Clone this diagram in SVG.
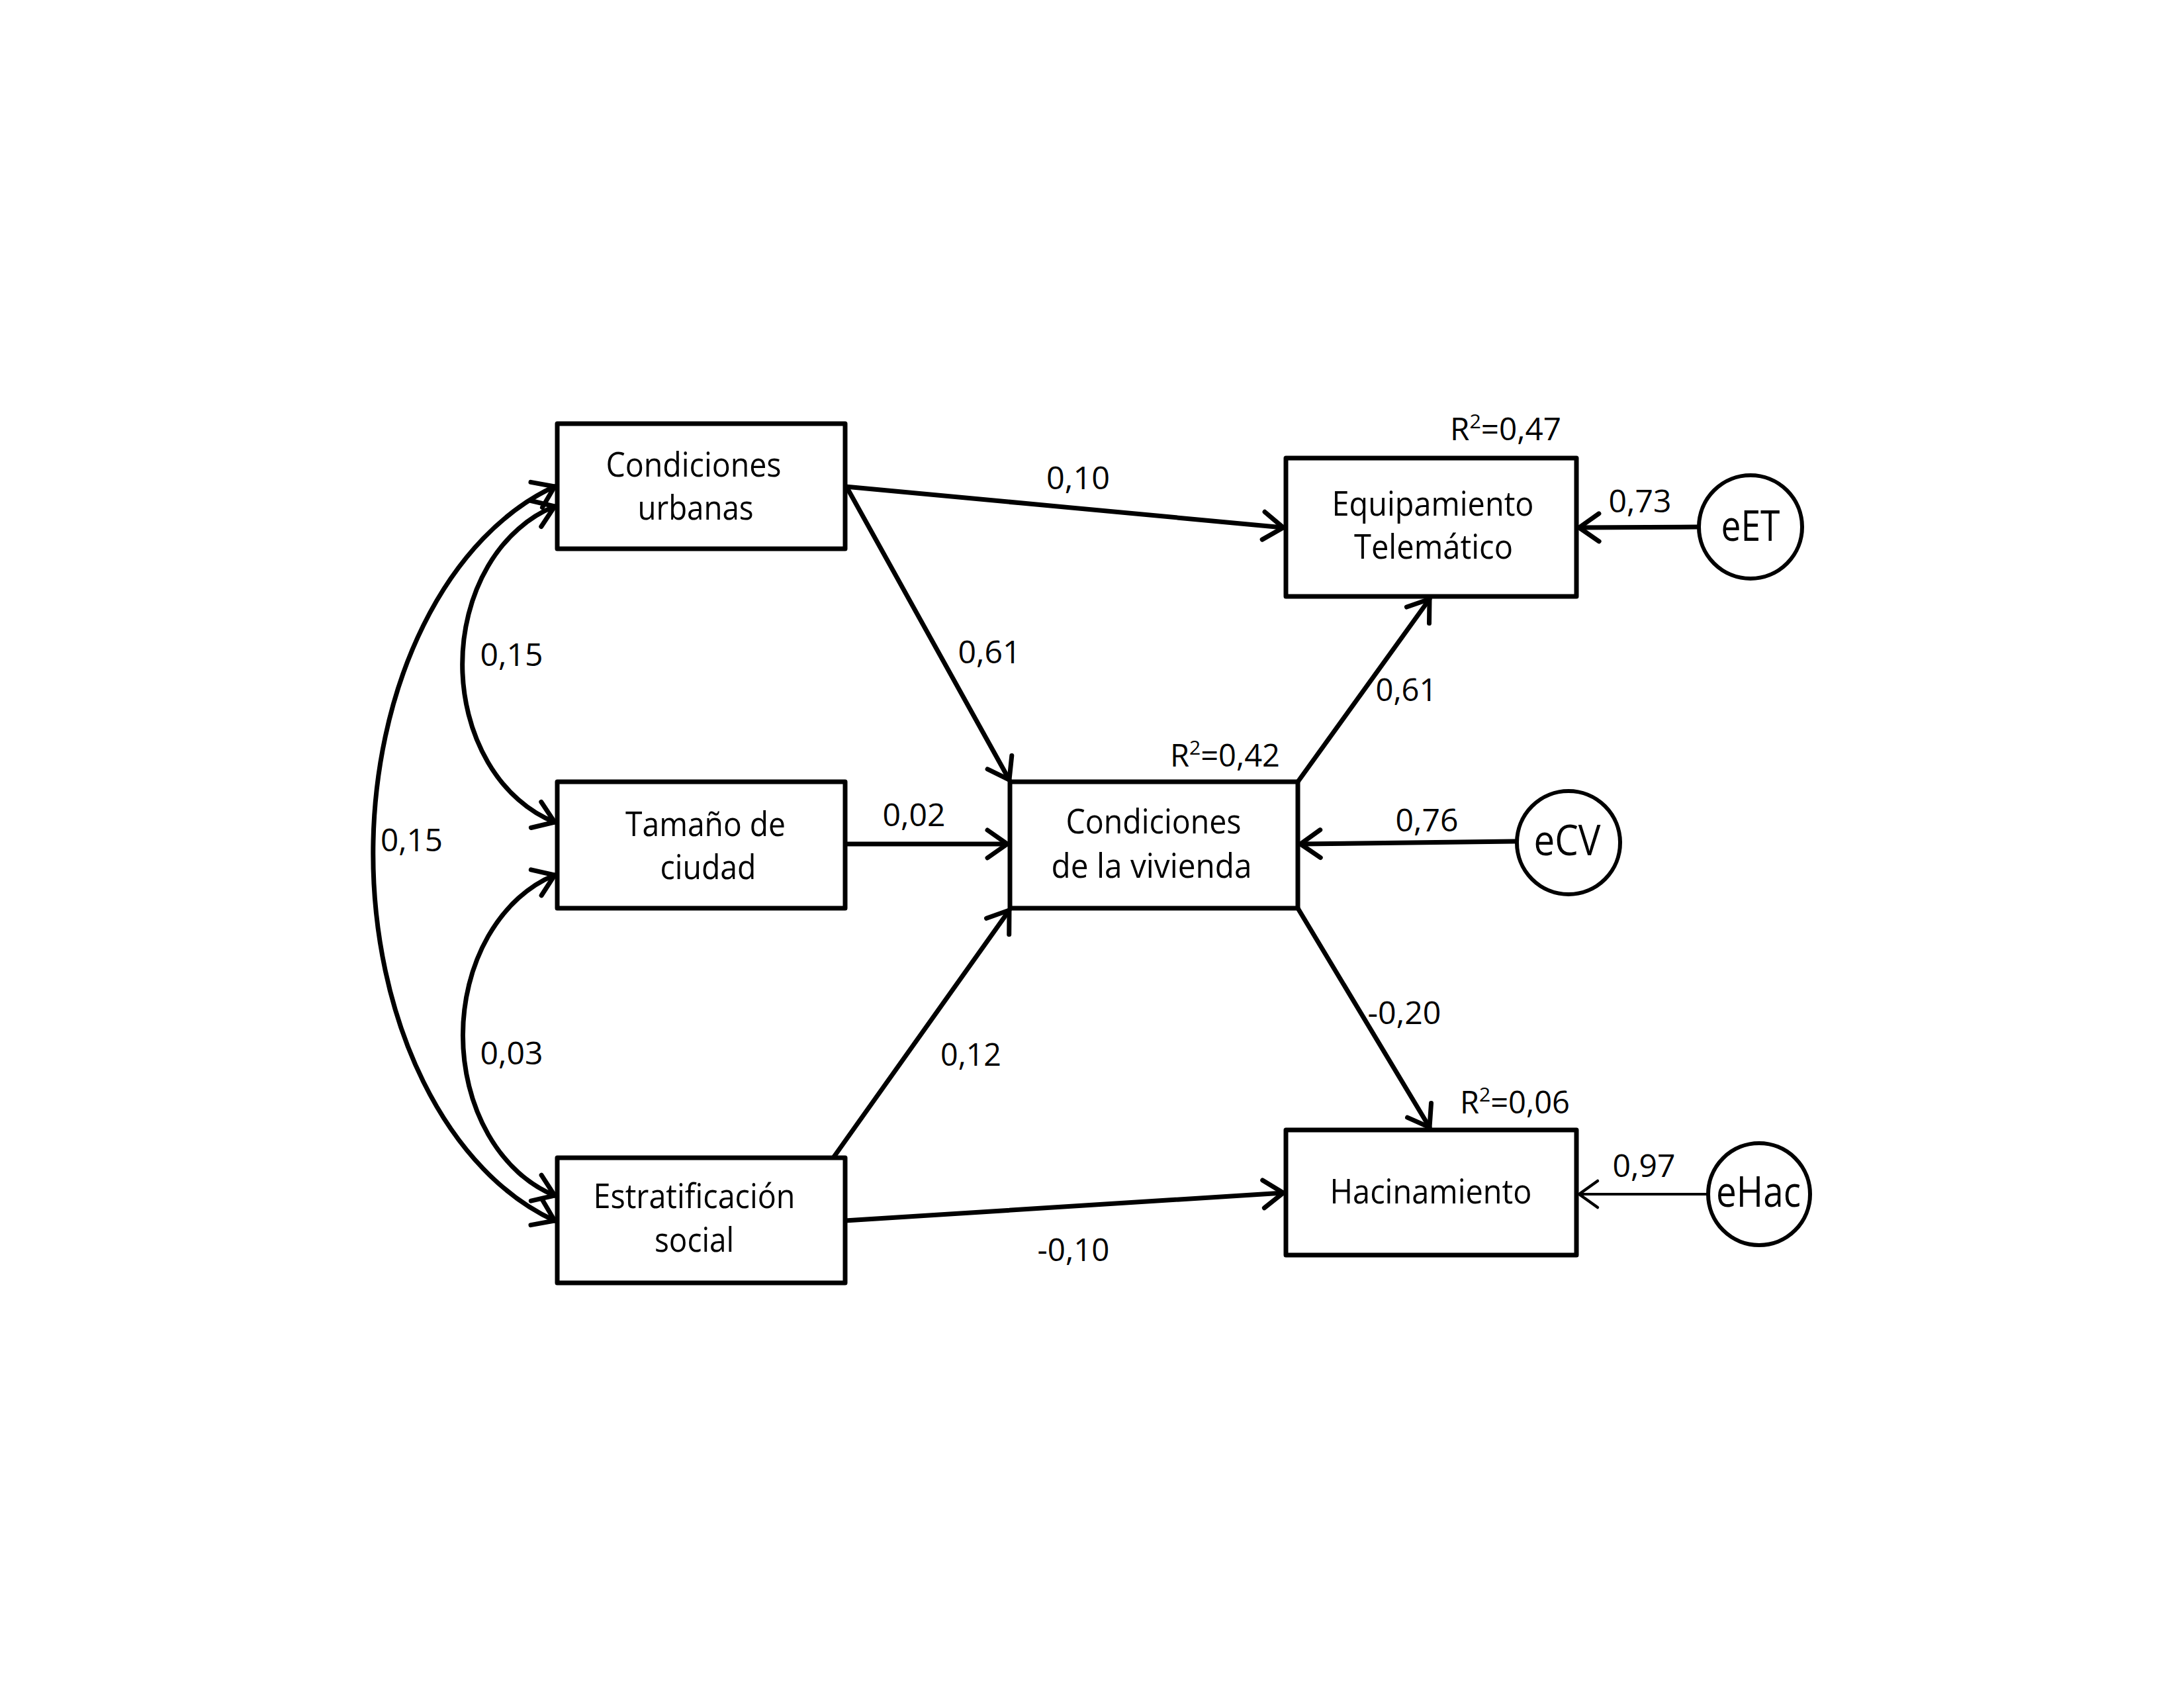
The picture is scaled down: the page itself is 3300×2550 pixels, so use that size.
<svg xmlns="http://www.w3.org/2000/svg" width="3300" height="2550" viewBox="0 0 3300 2550">
<style>
.box{fill:#fff;stroke:#000;stroke-width:7;stroke-linejoin:round}
.circ{fill:#fff;stroke:#000;stroke-width:6}
.ln{fill:none;stroke:#000;stroke-width:7;stroke-linecap:round}
.thin{fill:none;stroke:#000;stroke-width:4}
text{font-family:"Open Sans","Noto Sans",sans-serif;fill:#000;text-anchor:middle}
.t{font-size:52px}
.n{font-size:47px}
.e{font-size:64px}
</style>
<defs>
<marker id="ah" viewBox="-40 -30 50 60" refX="0" refY="0" markerWidth="50" markerHeight="60" markerUnits="userSpaceOnUse" orient="auto-start-reverse" overflow="visible">
<path d="M-30,-21 L0,0 L-30,21" fill="none" stroke="#000" stroke-width="7" stroke-linecap="round" stroke-linejoin="round"/>
</marker>
<marker id="ahThin" viewBox="-40 -30 50 60" refX="0" refY="0" markerWidth="50" markerHeight="60" markerUnits="userSpaceOnUse" orient="auto" overflow="visible">
<path d="M-28,-20 L0,0 L-28,20" fill="none" stroke="#000" stroke-width="4.5" stroke-linecap="round" stroke-linejoin="round"/>
</marker>
</defs>
<rect width="3300" height="2550" fill="#fff"/>

<g id="connectors">
<path class="ln" d="M1277,735 L1939,797" marker-end="url(#ah)"/>
<path class="ln" d="M1280,737 L1525,1178" marker-end="url(#ah)"/>
<path class="ln" d="M1277,1275 L1522,1275" marker-end="url(#ah)"/>
<path class="ln" d="M1259,1749 L1525,1375" marker-end="url(#ah)"/>
<path class="ln" d="M1277,1844 L1939,1802" marker-end="url(#ah)"/>
<path class="ln" d="M1961,1181 L2160,905" marker-end="url(#ah)"/>
<path class="ln" d="M1961,1372 L2160,1703" marker-end="url(#ah)"/>
<path class="ln" d="M2567,796 L2386,797" marker-end="url(#ah)"/>
<path class="ln" d="M2292,1271 L1965,1275" marker-end="url(#ah)"/>
<path class="thin" d="M2581,1804 L2386,1804" marker-end="url(#ahThin)"/>
<path class="ln" d="M838,735 A388,580 0 0 0 838,1844" marker-start="url(#ah)" marker-end="url(#ah)"/>
<path class="ln" d="M838,765 A199,250 0 0 0 838,1242" marker-start="url(#ah)" marker-end="url(#ah)"/>
<path class="ln" d="M838,1322 A199,254 0 0 0 838,1806" marker-start="url(#ah)" marker-end="url(#ah)"/>
</g>

<g id="labels">
<text class="n" x="1629" y="739" textLength="96" lengthAdjust="spacingAndGlyphs">0,10</text>
<text class="n" x="1495" y="1002" textLength="95" lengthAdjust="spacingAndGlyphs">0,61</text>
<text class="n" x="1381" y="1248" textLength="95" lengthAdjust="spacingAndGlyphs">0,02</text>
<text class="n" x="1467" y="1610" textLength="92" lengthAdjust="spacingAndGlyphs">0,12</text>
<text class="n" x="1622" y="1905" textLength="109" lengthAdjust="spacingAndGlyphs">-0,10</text>
<text class="n" x="2125" y="1059" textLength="93" lengthAdjust="spacingAndGlyphs">0,61</text>
<text class="n" x="2122" y="1547" textLength="111" lengthAdjust="spacingAndGlyphs">-0,20</text>
<text class="n" x="2478" y="774" textLength="95" lengthAdjust="spacingAndGlyphs">0,73</text>
<text class="n" x="2156" y="1256" textLength="95" lengthAdjust="spacingAndGlyphs">0,76</text>
<text class="n" x="2484" y="1778" textLength="95" lengthAdjust="spacingAndGlyphs">0,97</text>
<text class="n" x="773" y="1006" textLength="95" lengthAdjust="spacingAndGlyphs">0,15</text>
<text class="n" x="622" y="1286" textLength="94" lengthAdjust="spacingAndGlyphs">0,15</text>
<text class="n" x="773" y="1608" textLength="95" lengthAdjust="spacingAndGlyphs">0,03</text>
<text class="n" x="2275" y="665" textLength="168" lengthAdjust="spacingAndGlyphs">R<tspan font-size="30" dy="-18">2</tspan><tspan dy="18">=0,47</tspan></text>
<text class="n" x="1851" y="1158" textLength="166" lengthAdjust="spacingAndGlyphs">R<tspan font-size="30" dy="-18">2</tspan><tspan dy="18">=0,42</tspan></text>
<text class="n" x="2289" y="1682" textLength="166" lengthAdjust="spacingAndGlyphs">R<tspan font-size="30" dy="-18">2</tspan><tspan dy="18">=0,06</tspan></text>
</g>

<g id="node-cu">
<rect class="box" x="842" y="640" width="435" height="189"/>
<text class="t" x="1048" y="720" textLength="265" lengthAdjust="spacingAndGlyphs">Condiciones</text>
<text class="t" x="1051" y="785" textLength="175" lengthAdjust="spacingAndGlyphs">urbanas</text>
</g>
<g id="node-tc">
<rect class="box" x="842" y="1181" width="435" height="191"/>
<text class="t" x="1066" y="1263" textLength="242" lengthAdjust="spacingAndGlyphs">Tamaño de</text>
<text class="t" x="1070" y="1328" textLength="145" lengthAdjust="spacingAndGlyphs">ciudad</text>
</g>
<g id="node-es">
<rect class="box" x="842" y="1749" width="435" height="189"/>
<text class="t" x="1049" y="1825" textLength="305" lengthAdjust="spacingAndGlyphs">Estratificación</text>
<text class="t" x="1049" y="1891" textLength="120" lengthAdjust="spacingAndGlyphs">social</text>
</g>
<g id="node-cv">
<rect class="box" x="1526" y="1181" width="435" height="191"/>
<text class="t" x="1743" y="1259" textLength="265" lengthAdjust="spacingAndGlyphs">Condiciones</text>
<text class="t" x="1740" y="1326" textLength="303" lengthAdjust="spacingAndGlyphs">de la vivienda</text>
</g>
<g id="node-et">
<rect class="box" x="1943" y="692" width="439" height="209"/>
<text class="t" x="2165" y="779" textLength="305" lengthAdjust="spacingAndGlyphs">Equipamiento</text>
<text class="t" x="2166" y="844" textLength="240" lengthAdjust="spacingAndGlyphs">Telemático</text>
</g>
<g id="node-ha">
<rect class="box" x="1943" y="1707" width="439" height="189"/>
<text class="t" x="2162" y="1818" textLength="305" lengthAdjust="spacingAndGlyphs">Hacinamiento</text>
</g>
<g id="node-eet">
<circle class="circ" cx="2645" cy="796" r="78"/>
<text class="e" x="2645" y="817" textLength="89" lengthAdjust="spacingAndGlyphs">eET</text>
</g>
<g id="node-ecv">
<circle class="circ" cx="2370" cy="1273" r="78"/>
<text class="e" x="2368" y="1292" textLength="101" lengthAdjust="spacingAndGlyphs">eCV</text>
</g>
<g id="node-ehac">
<circle class="circ" cx="2658" cy="1804" r="77"/>
<text class="e" x="2657" y="1823" textLength="128" lengthAdjust="spacingAndGlyphs">eHac</text>
</g>
</svg>
